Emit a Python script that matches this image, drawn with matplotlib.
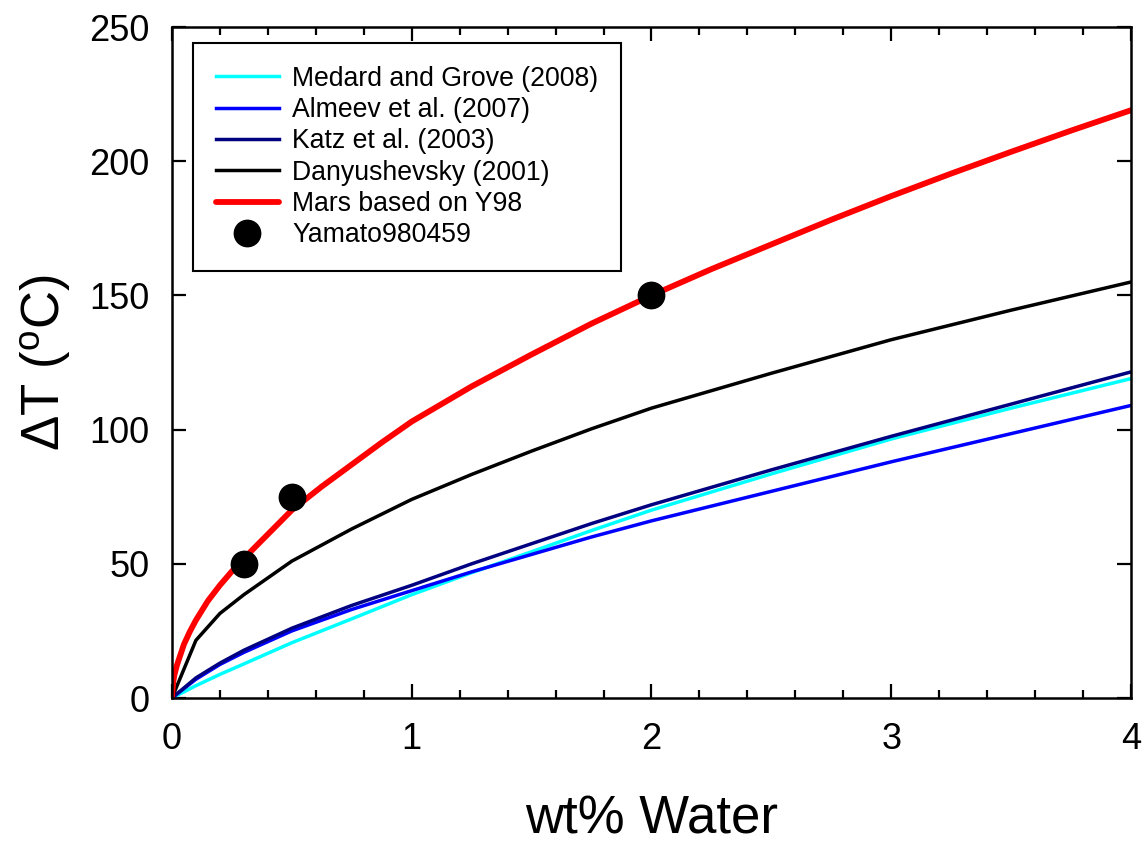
import matplotlib
matplotlib.use("Agg")
import matplotlib.pyplot as plt
from matplotlib.ticker import MultipleLocator

plt.rcParams['font.family'] = ['Liberation Sans', 'DejaVu Sans']
plt.rcParams['mathtext.fontset'] = 'custom'
plt.rcParams['mathtext.rm'] = 'Liberation Sans'

# Data
water = [0.0, 0.1, 0.2, 0.3, 0.5, 0.75, 1.0, 1.25, 1.5, 1.75, 2.0, 2.5, 3.0, 3.5, 4.0]
medard = [0.0, 4.6, 8.8, 12.7, 20.6, 29.5, 38.5, 46.7, 54.5, 62.4, 70.0, 83.5, 96.5, 108.0, 119.0]
almeev = [0.0, 7.0, 12.5, 17.0, 25.0, 33.0, 40.0, 47.0, 53.5, 60.0, 66.0, 77.0, 88.0, 98.5, 109.0]
katz = [0.0, 7.5, 13.0, 17.8, 26.0, 34.5, 42.0, 50.0, 57.5, 65.0, 72.0, 85.0, 97.5, 109.5, 121.5]
danyu = [0.0, 21.5, 31.5, 38.5, 51.0, 63.0, 74.0, 83.3, 92.0, 100.3, 108.0, 121.0, 133.5, 144.5, 155.0]

mars_x = [0.0, 0.005, 0.01, 0.02, 0.035, 0.05, 0.075, 0.1, 0.15, 0.2, 0.25, 0.3, 0.4, 0.5,
          0.625, 0.75, 0.875, 1.0, 1.25, 1.5, 1.75, 2.0, 2.25, 2.5, 2.75, 3.0, 3.25, 3.5, 3.75, 4.0]
mars_y = [0.0, 5.8, 8.5, 12.0, 16.0, 20.0, 24.8, 29.0, 36.2, 42.0, 47.2, 52.0, 61.0, 70.0,
          78.8, 87.0, 95.2, 103.0, 116.1, 128.0, 139.5, 150.0, 159.8, 169.0, 178.2, 187.0, 195.4, 203.5, 211.4, 219.0]

y98_x = [0.3, 0.5, 2.0]
y98_y = [50, 75, 150]

fig = plt.figure(figsize=(11.44, 8.42), dpi=100)
ax = fig.add_axes([0.1503, 0.1710, 0.8383, 0.7969])

lw = 2.5
ax.plot(water, medard, color='#00FFFF', lw=lw, label='Medard and Grove (2008)')
ax.plot(water, almeev, color='#0000FF', lw=lw, label='Almeev et al. (2007)')
ax.plot(water, katz, color='#000080', lw=lw, label='Katz et al. (2003)')
ax.plot(water, danyu, color='black', lw=lw, label='Danyushevsky (2001)')
ax.plot(mars_x, mars_y, color='#FF0000', lw=4.2, label='Mars based on Y98',
        solid_capstyle='round', solid_joinstyle='round')
ax.plot(y98_x, y98_y, 'o', color='black', ms=19, ls='none', label='Yamato980459', zorder=5)

ax.set_xlim(0, 4)
ax.set_ylim(0, 250)
ax.xaxis.set_major_locator(MultipleLocator(1))
ax.xaxis.set_minor_locator(MultipleLocator(0.2))
ax.yaxis.set_major_locator(MultipleLocator(50))

ax.tick_params(axis='both', which='both', direction='in', top=True, right=True,
               labelsize=26, width=1.6)
ax.tick_params(axis='both', which='major', length=10)
ax.tick_params(axis='x', which='major', pad=17)
ax.tick_params(axis='y', which='major', pad=16)
ax.tick_params(axis='x', which='minor', length=6)
for s in ax.spines.values():
    s.set_linewidth(1.8)

ax.set_xlabel('wt% Water', fontsize=38, labelpad=27)
ax.set_ylabel('\u0394T ($\\mathregular{^o}$C)', fontsize=38, labelpad=12)

leg = ax.legend(loc='upper left', bbox_to_anchor=(0.0219, 0.976), borderaxespad=0,
                fontsize=19.2, frameon=True, fancybox=False, edgecolor='black',
                framealpha=1, handlelength=2.36, handletextpad=0.52,
                labelspacing=0.2, borderpad=0.85, markerscale=1.0)
leg.get_frame().set_linewidth(1.5)

fig.savefig('out.png', dpi=100)
